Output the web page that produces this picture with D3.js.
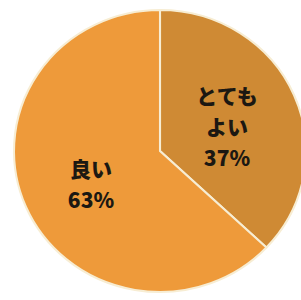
<!DOCTYPE html>
<html><head><meta charset="utf-8">
<script src="https://cdn.jsdelivr.net/npm/d3@7"></script>
<style>html,body{margin:0;padding:0;background:#fff;}svg{display:block;}</style>
</head><body>
<svg id="chart" width="301" height="300"></svg>
<script>
const labels = [["とても","よい"], ["良い"]];
const values = [37, 63];
const colors = ["#CF8A34", "#EE9A3A"];

const svg = d3.select("#chart");
const cx = 160, cy = 151, r = 141, sx = 146 / 141;
const g = svg.append("g").attr("transform", `translate(${cx},${cy}) scale(${sx},1)`);
const pie = d3.pie().sort(null).value(d => d)(values);
const arc = d3.arc().innerRadius(0).outerRadius(r);

g.selectAll("path").data(pie).join("path")
  .attr("d", arc)
  .attr("fill", (d,i) => colors[i])
  .attr("stroke", "#F7EDD3")
  .attr("stroke-width", 2);

const tg = svg.append("g").attr("transform", `translate(${cx},${cy})`);
const labelPos = [[67, -47], [-69, 26]];
pie.forEach((d,i) => {
  const lines = labels[i].concat([values[i] + "%"]);
  const t = tg.append("text")
    .attr("text-anchor","middle")
    .attr("font-family","'Noto Sans CJK JP', sans-serif")
    .attr("font-weight","900")
    .attr("font-size", 21)
    .attr("fill","#1c1812");
  lines.forEach((ln, j) => {
    t.append("tspan").attr("x", labelPos[i][0]).attr("y", labelPos[i][1] + j*31).text(ln);
  });
});
</script>
</body></html>
